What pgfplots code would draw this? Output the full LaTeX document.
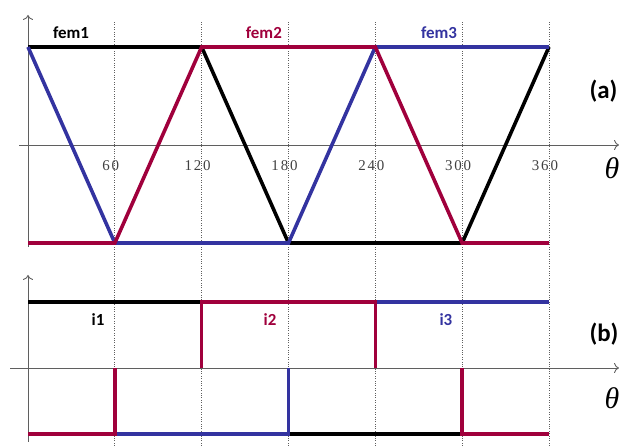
\documentclass[border=0pt]{standalone}
\usepackage{pgfplots}
\pgfplotsset{compat=1.18}
\usetikzlibrary{arrows.meta}
\usepackage{fontspec}
\setmainfont{Carlito}
\newfontfamily\tickfont[LetterSpace=12]{Liberation Serif}
\newfontfamily\greekfont{Liberation Serif}
\definecolor{femred}{RGB}{160,0,60}
\definecolor{femblue}{RGB}{51,51,160}
\definecolor{axisgray}{RGB}{95,95,95}

\pgfplotsset{
  phase/.style={
    scale only axis, axis lines=middle, anchor=south west,
    xmax=408.4, ytick=\empty, major tick length=0pt,
    axis line style={axisgray, line width=0.9pt, -{To[length=5pt,width=10pt]}},
    clip=false,
  },
  wave/.style={line width=3.6pt, no marks, line cap=butt, line join=miter},
}
\tikzset{
  lbl/.style={font=\bfseries\fontsize{17}{17}\selectfont},
  panel/.style={anchor=west, font=\bfseries\fontsize{25}{25}\selectfont},
  angle/.style={font=\greekfont\itshape\fontsize{30}{30}\selectfont},
}

\begin{document}
\begin{tikzpicture}[x=1bp,y=1bp]
\useasboundingbox (0,0) rectangle (619,448);

% dotted guides every 60 degrees, through both panels
\begin{axis}[scale only axis, anchor=south west, at={(19bp,0bp)},
  width=600bp, height=427bp, xmin=-6.22, xmax=408.4, ymin=0, ymax=1,
  axis line style={draw=none}, xtick={60,120,...,360}, xticklabels={},
  ytick=\empty, major tick length=0pt, grid=major,
  major grid style={axisgray, dotted, line width=0.8pt}]
\end{axis}

% (a) back-EMF waveforms
\begin{axis}[phase, at={(19bp,201bp)}, width=600bp, height=232bp,
  xmin=-6.22, ymin=-1.0408, ymax=1.3265,
  xtick={60,120,...,360}, xticklabels={60,120,180,240,300,360},
  xticklabel style={font=\tickfont\fontsize{15}{15}\selectfont,
    text=black!75, anchor=center, yshift=-21bp, xshift=-4bp}]
\addplot[wave, black] coordinates {(0,1) (120,1) (180,-1) (300,-1) (360,1)};
\addplot[wave, femblue] coordinates {(0,1) (60,-1) (180,-1) (240,1) (360,1)};
\addplot[wave, femred] coordinates {(0,-1) (60,-1) (120,1) (240,1) (300,-1) (360,-1)};
\node[lbl, black] at (axis cs:29.7,1.143) {fem1};
\node[lbl, femred] at (axis cs:163,1.143) {fem2};
\node[lbl, femblue] at (axis cs:284,1.143) {fem3};
\end{axis}

% (b) phase currents
\begin{axis}[phase, at={(10bp,6bp)}, width=609bp, height=167bp,
  xmin=-12.44, ymin=-1.121, ymax=1.409, xtick=\empty]
\addplot[wave, black] coordinates {(0,1) (120,1) (120,0)};
\addplot[wave, black] coordinates {(180,0) (180,-1) (300,-1) (300,0)};
\addplot[wave, femblue] coordinates {(60,0) (60,-1) (180,-1) (180,0)};
\addplot[wave, femblue] coordinates {(240,0) (240,1) (360,1)};
\addplot[wave, femred] coordinates {(0,-1) (60,-1) (60,0)};
\addplot[wave, femred] coordinates {(120,0) (120,1) (240,1) (240,0)};
\addplot[wave, femred] coordinates {(300,0) (300,-1) (360,-1)};
\node[lbl, black] at (axis cs:48.4,0.727) {i1};
\node[lbl, femred] at (axis cs:167.2,0.727) {i2};
\node[lbl, femblue] at (axis cs:288.8,0.727) {i3};
\end{axis}

\node[panel] at (586,357) {(a)};
\node[panel] at (586,114) {(b)};
\node[angle] at (612,280) {θ};
\node[angle] at (612,50) {θ};
\end{tikzpicture}
\end{document}
